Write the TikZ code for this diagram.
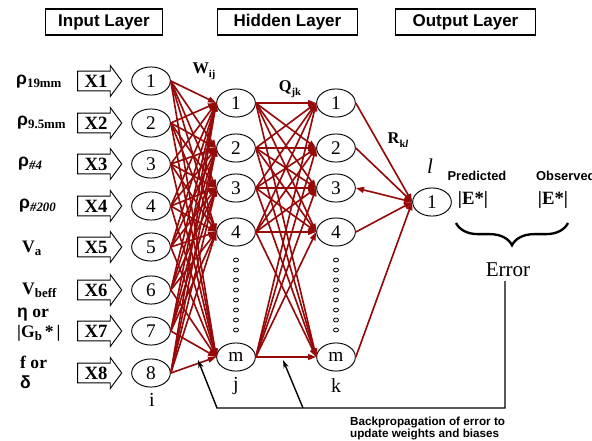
\documentclass[tikz,border=0pt]{standalone}
\usepackage{fontspec}
\setmainfont{Liberation Serif}
\setsansfont{Liberation Sans}
\usetikzlibrary{arrows.meta,shapes.geometric,shapes.arrows,decorations.pathreplacing}
\definecolor{wirered}{RGB}{150,10,10}
\newcommand{\fsz}[1]{\fontsize{#1}{#1}\selectfont}
\newcommand{\sublbl}[1]{\raisebox{-2.5pt}{\fsz{11}\bfseries #1}}
\newcommand{\gk}[1]{{\sffamily\bfseries #1}}

\tikzset{
  layerbox/.style={draw, line width=1.1pt, minimum width=120pt, minimum height=22pt, inner sep=0pt, font=\sffamily\bfseries\fsz{14.5}},
  neuron/.style={ellipse, draw, line width=0.8pt, minimum width=33pt, minimum height=24pt, inner sep=0pt, font=\fsz{16.5}},
  xarrow/.style={single arrow, draw, line width=0.8pt, font=\bfseries\fsz{16}, text height=11pt, text depth=0pt, inner xsep=1pt, inner ysep=2.6pt, single arrow head extend=4.7pt, single arrow tip angle=107, minimum height=37.6pt},
  wire/.style={draw=wirered, line width=1.4pt, -{Triangle[length=7pt,width=5pt]}},
  backwire/.style={draw=black, line width=1.2pt},
  inlabel/.style={anchor=west, align=left, inner sep=0pt, font=\bfseries\fontsize{15}{17}\selectfont},
  idx/.style={font=\fsz{17}},
  wlabel/.style={font=\bfseries\fsz{14}},
  dotc/.style={draw, line width=0.7pt},
}

\begin{document}
\begin{tikzpicture}[x=0.03cm, y=-0.03cm]
  \useasboundingbox (0,0) rectangle (592,440);

  % layer titles
  \node[layerbox, minimum width=100pt] (intitle) at (104,22) {Input Layer};
  \node[layerbox] (hidtitle) at (287.5,22) {Hidden Layer};
  \node[layerbox] (outtitle) at (465.5,22) {Output Layer};

  % input variables
  \node[inlabel] (v1) at (16,82) {\gk{ρ}\sublbl{19mm}};
  \node[inlabel] (v2) at (17,123) {\gk{ρ}\sublbl{9.5mm}};
  \node[inlabel] (v3) at (18,164) {\gk{ρ}\sublbl{\itshape\#4}};
  \node[inlabel] (v4) at (19,206) {\gk{ρ}\sublbl{\itshape\#200}};
  \node[inlabel] (v5) at (22,248) {V\sublbl{a}};
  \node[inlabel] (v6) at (22,290) {V\sublbl{beff}};
  \node[inlabel] (v7) at (17,325) {\gk{η} or\\|G\sublbl{b}\,*\,|};
  \node[inlabel] (v8) at (20,372) {f or\\\gk{δ}};

  \foreach \i/\y in {1/81,2/123,3/164,4/206,5/247,6/290,7/331,8/373}{
    \node[xarrow] (x\i) at (96,\y) {X\i};
    \node[neuron] (i\i) at (151,\y) {\i};
  }

  % hidden layers
  \foreach \j/\y in {1/103,2/148,3/188,4/232,m/357}{
    \node[neuron] (j\j) at (236,\y) {\j};
    \node[neuron] (k\j) at (336,\y) {\j};
  }
  \foreach \y in {260,270,...,330}{
    \draw[dotc] (236,\y) ellipse (2.5 and 2);
    \draw[dotc] (336,\y) ellipse (2.5 and 2);
  }

  % output
  \node[neuron] (l1) at (432,202) {1};

  % weights
  \foreach \i in {1,...,8}
    \foreach \j in {1,2,3,4,m}
      \draw[wire] (i\i.east) -- (j\j.west);
  \foreach \j in {1,2,3,4,m}
    \foreach \k in {1,2,3,4,m}
      \draw[wire] (j\j.east) -- (k\k.west);
  \foreach \k in {1,2,4,m}
    \draw[wire] (k\k.east) -- (l1.west);
  \draw[wire, {Triangle[length=7pt,width=5pt]}-{Triangle[length=7pt,width=5pt]}] (k3.east) -- (l1.west);

  \node[wlabel] (wij) at (204,71) {W\raisebox{-3pt}{\fsz{9}ij}};
  \node[wlabel] (qjk) at (290,89) {Q\raisebox{-3pt}{\fsz{9}jk}};
  \node[wlabel] (rkl) at (398,140) {R\raisebox{-3pt}{\fsz{9}k\textit{l}}};
  \node[idx] (iname) at (152,400) {i};
  \node[idx] (jname) at (236,386) {j};
  \node[idx] (kname) at (336,386) {k};
  \node[idx, font=\itshape\fsz{18}] (lname) at (430,166) {l};

  % error
  \node[font=\sffamily\bfseries\fsz{11}] (pred) at (477,176) {Predicted};
  \node[font=\sffamily\bfseries\fsz{11}, anchor=west] (obs) at (532,176) {Observed};
  \node[font=\bfseries\fsz{16}] (epred) at (473,200) {|E*|};
  \node[font=\bfseries\fsz{16}] (eobs) at (553,200) {|E*|};
  \draw[line width=2pt, decorate, decoration={brace, amplitude=19pt, mirror}] (456,223) -- (568,223);
  \node[font=\fsz{18}] (err) at (508,270) {Error};

  % backpropagation
  \coordinate (bcorner) at (505,408);
  \coordinate (bleft) at (217,408);
  \coordinate (bmid) at (303,408);
  \coordinate (tipj) at (198,360);
  \coordinate (tipk) at (283,360);
  \draw[backwire, -{Stealth[length=7pt,width=4.5pt]}] (err.south -| bcorner) -- (bcorner) -- (bleft) -- (tipj);
  \draw[backwire, -{Stealth[length=7pt,width=4.5pt]}] (bmid) -- (tipk);
  \node[anchor=north west, align=left, font=\sffamily\bfseries\fontsize{10}{8.6}\selectfont] (bptext) at (346,413) {Backpropagation of error to\\update weights and biases};
\end{tikzpicture}
\end{document}
